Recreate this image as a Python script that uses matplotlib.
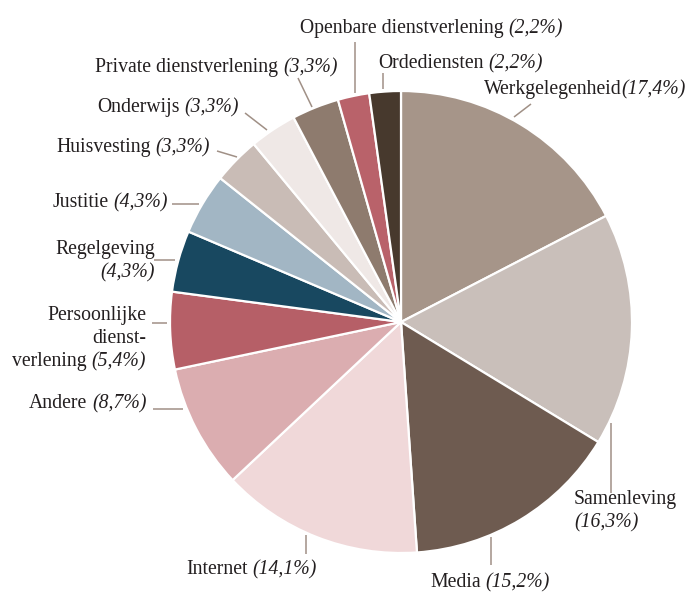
import matplotlib
matplotlib.use("Agg")
import matplotlib.pyplot as plt

# ---------------- data ----------------
categories = ["Werkgelegenheid", "Samenleving", "Media", "Internet", "Andere",
              "Persoonlijke dienstverlening", "Regelgeving", "Justitie",
              "Huisvesting", "Onderwijs", "Private dienstverlening",
              "Openbare dienstverlening", "Ordediensten"]
values = [17.4, 16.3, 15.2, 14.1, 8.7, 5.4, 4.3, 4.3, 3.3, 3.3, 3.3, 2.2, 2.2]
pct_labels = ["(17,4%)", "(16,3%)", "(15,2%)", "(14,1%)", "(8,7%)", "(5,4%)",
              "(4,3%)", "(4,3%)", "(3,3%)", "(3,3%)", "(3,3%)", "(2,2%)", "(2,2%)"]
colors = ["#a69589", "#c9bfba", "#6e5b50", "#f0d8d9", "#dbadb0", "#b65f67",
          "#184860", "#a2b6c4", "#c9bcb6", "#efe8e6", "#8e7b6e", "#b9626a",
          "#47392d"]

# ---------------- layout (pixels of the 685x592 canvas) ----------------
W, H = 685, 592
CX, CY, R = 401, 322, 231
FONT = "Liberation Serif"
FS = 14.2
TXT = "#231f20"
LINE = "#a09086"

def px(x, y):
    return (x - CX) / R, (CY - y) / R

label_layout = {
    "Werkgelegenheid": dict(lines=[[("Werkgelegenheid", False), (pct_labels[0], True)]], x=484, y=94, ha="left", sep=""),
    "Samenleving": dict(lines=[[("Samenleving", False)], [(pct_labels[1], True)]], x=574, y=504, ha="left"),
    "Media": dict(lines=[[("Media", False), (pct_labels[2], True)]], x=430, y=587, ha="left"),
    "Internet": dict(lines=[[("Internet", False), (pct_labels[3], True)]], x=186, y=574, ha="left"),
    "Andere": dict(lines=[[("Andere", False), (pct_labels[4], True)]], x=147, y=408, ha="right"),
    "Persoonlijke dienstverlening": dict(lines=[[("Persoonlijke", False)], [("dienst-", False)],
                                                [("verlening", False), (pct_labels[5], True)]],
                                         x=146, y=320, ha="right"),
    "Regelgeving": dict(lines=[[("Regelgeving", False)], [(pct_labels[6], True)]], x=155, y=254, ha="right"),
    "Justitie": dict(lines=[[("Justitie", False), (pct_labels[7], True)]], x=168, y=207, ha="right"),
    "Huisvesting": dict(lines=[[("Huisvesting", False), (pct_labels[8], True)]], x=210, y=152, ha="right"),
    "Onderwijs": dict(lines=[[("Onderwijs", False), (pct_labels[9], True)]], x=239, y=112, ha="right"),
    "Private dienstverlening": dict(lines=[[("Private dienstverlening", False), (pct_labels[10], True)]], x=95, y=72, ha="left"),
    "Openbare dienstverlening": dict(lines=[[("Openbare dienstverlening", False), (pct_labels[11], True)]], x=300, y=33, ha="left"),
    "Ordediensten": dict(lines=[[("Ordediensten", False), (pct_labels[12], True)]], x=378, y=68, ha="left"),
}
LINE_GAP = 23

leaders = {
    "Werkgelegenheid": ((514, 117), (531, 104)),
    "Samenleving": ((611, 423), (611, 493)),
    "Media": ((491, 537), (491, 565)),
    "Internet": ((306, 535), (306, 554)),
    "Andere": ((183, 409), (153, 409)),
    "Persoonlijke dienstverlening": ((167, 323), (152, 323)),
    "Regelgeving": ((175, 260), (154, 260)),
    "Justitie": ((199, 204), (172, 204)),
    "Huisvesting": ((237, 157), (217, 151)),
    "Onderwijs": ((267, 130), (245, 113)),
    "Private dienstverlening": ((312, 107), (298, 78)),
    "Openbare dienstverlening": ((355, 93), (355, 42)),
    "Ordediensten": ((383, 89), (383, 73)),
}

# ---------------- figure ----------------
fig = plt.figure(figsize=(W / 100, H / 100), dpi=100)
ax = fig.add_axes([0, 0, 1, 1])
ax.pie(values, colors=colors, startangle=90, counterclock=False, radius=1,
       center=(0, 0), wedgeprops=dict(edgecolor="white", linewidth=1.6))
ax.set_aspect("auto")
ax.set_xlim(-CX / R, (W - CX) / R)
ax.set_ylim((CY - H) / R, CY / R)
ax.axis("off")

renderer = fig.canvas.get_renderer()

def tw(s, italic):
    t = fig.text(0, 0, s, family=FONT, fontsize=FS, style="italic" if italic else "normal")
    w = t.get_window_extent(renderer).width
    t.remove()
    return w

space_w = tw("a a", False) - tw("aa", False)

def draw_line(parts, x, y, ha, sep=" "):
    widths = [tw(s, it) for s, it in parts]
    gap = space_w if sep == " " else 0.0
    total = sum(widths) + gap * (len(parts) - 1)
    x0 = x if ha == "left" else x - total
    for (s, it), w in zip(parts, widths):
        dx, dy = px(x0, y)
        ax.text(dx, dy, s, family=FONT, fontsize=FS, color=TXT,
                style="italic" if it else "normal", ha="left", va="baseline")
        x0 += w + gap

for name in categories:
    lay = label_layout[name]
    for i, parts in enumerate(lay["lines"]):
        draw_line(parts, lay["x"], lay["y"] + i * LINE_GAP, lay["ha"], lay.get("sep", " "))
    (x0, y0), (x1, y1) = leaders[name]
    a, b = px(x0, y0)
    c, d = px(x1, y1)
    ax.plot([a, c], [b, d], color=LINE, lw=1.1, solid_capstyle="butt")

fig.savefig("out.png", dpi=100)
